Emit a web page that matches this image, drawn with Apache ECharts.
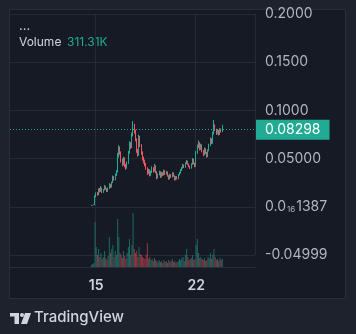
<!DOCTYPE html>
<html>
<head>
<meta charset="utf-8">
<script src="https://cdn.jsdelivr.net/npm/echarts@6/dist/echarts.min.js"></script>
<style>
html,body{margin:0;padding:0;background:#1e222d;}
#c{width:356px;height:334px;}
</style>
</head>
<body>
<div id="c"></div>
<script>
// ---- data (2-hour candles) ----
var firstIndex = 68;          // slot of first candle
var slotCount = 206;          // number of 2h slots on the time axis
var firstOpen = 0.0012;
var closes = [
 .0015,.0018,.0020,.0105,.0140,.0125,.0180,.0160,.0195,.0150,
 .0175,.0210,.0185,.0160,.0190,.0230,.0205,.0250,.0310,.0280,
 .0330,.0360,.0520,.0610,.0560,.0480,.0440,.0500,.0430,.0400,
 .0450,.0560,.0650,.0620,.0740,.0820,.0780,.0700,.0580,.0540,
 .0720,.0640,.0560,.0500,.0470,.0440,.0400,.0350,.0380,.0330,
 .0360,.0400,.0370,.0420,.0360,.0300,.0330,.0360,.0310,.0350,
 .0330,.0370,.0340,.0360,.0320,.0290,.0330,.0310,.0350,.0320,
 .0280,.0310,.0290,.0330,.0350,.0380,.0400,.0430,.0410,.0450,
 .0470,.0440,.0420,.0400,.0440,.0490,.0450,.0420,.0560,.0620,
 .0660,.0600,.0640,.0580,.0540,.0600,.0560,.0520,.0580,.0640,
 .0700,.0660,.0760,.0840,.0800,.0760,.0790,.0750,.0800,.0780,
 .08298
];
var highs = [
 .0018,.0020,.0024,.0120,.0150,.0152,.0192,.0195,.0215,.0200,
 .0185,.0225,.0218,.0192,.0200,.0245,.0238,.0262,.0325,.0318,
 .0345,.0380,.0560,.0640,.0625,.0575,.0500,.0520,.0510,.0445,
 .0470,.0580,.0680,.0670,.0770,.0890,.0860,.0800,.0710,.0600,
 .0750,.0735,.0650,.0575,.0520,.0490,.0455,.0410,.0395,.0390,
 .0375,.0420,.0410,.0445,.0430,.0370,.0345,.0375,.0368,.0362,
 .0358,.0385,.0378,.0372,.0366,.0328,.0342,.0338,.0360,.0356,
 .0326,.0320,.0318,.0340,.0362,.0392,.0412,.0445,.0438,.0462,
 .0485,.0478,.0448,.0428,.0452,.0505,.0498,.0458,.0580,.0645,
 .0690,.0670,.0655,.0648,.0590,.0615,.0608,.0570,.0595,.0655,
 .0720,.0710,.0780,.0900,.0855,.0810,.0805,.0798,.0815,.0812,
 .0850
];
var lows = [
 .0010,.0013,.0016,.0018,.0098,.0115,.0120,.0150,.0155,.0142,
 .0145,.0170,.0178,.0152,.0155,.0185,.0195,.0200,.0245,.0270,
 .0275,.0320,.0355,.0510,.0540,.0460,.0420,.0430,.0410,.0385,
 .0395,.0445,.0550,.0600,.0610,.0730,.0760,.0680,.0560,.0520,
 .0530,.0620,.0540,.0480,.0450,.0420,.0385,.0330,.0340,.0315,
 .0320,.0350,.0355,.0365,.0345,.0285,.0295,.0325,.0300,.0305,
 .0320,.0325,.0330,.0332,.0312,.0280,.0285,.0300,.0305,.0312,
 .0272,.0275,.0282,.0286,.0325,.0345,.0372,.0395,.0402,.0405,
 .0442,.0432,.0410,.0392,.0396,.0435,.0440,.0410,.0415,.0550,
 .0610,.0585,.0590,.0565,.0525,.0535,.0548,.0510,.0515,.0575,
 .0630,.0650,.0655,.0750,.0785,.0745,.0752,.0740,.0745,.0770,
 .0775
];
var volumes = [
 2,3,4,45,20,12,18,10,14,8,
 10,16,9,7,11,30,14,18,22,10,
 16,12,48,30,14,12,9,16,11,8,
 14,20,28,12,22,54,18,14,16,10,
 20,13,12,10,9,8,12,24,8,10,
 7,8,6,9,7,6,5,7,5,6,
 4,7,5,6,4,7,5,6,8,5,
 6,4,5,6,8,7,9,10,6,12,
 18,10,7,8,9,12,7,8,22,28,
 14,9,10,8,7,9,6,7,10,9,
 14,8,12,18,10,7,8,6,9,7,
 8
];
var tickDays = ['15', '22'];
var yTickValues = [-0.05, 0, 0.05, 0.1, 0.15, 0.2];
var yTickLabels = ['-0.04999', '0.0{sub|16}1387', '0.05000', '0.1000', '0.1500', '0.2000'];
var lastPrice = 0.08298;
var lastPriceLabel = '0.08298';
var volumeLabel = 'Volume';
var volumeValue = '311.31K';

// ---- build ----
var UP = '#22ab94', DOWN = '#f7525f';
var cats = [], candle = [], vol = [];
for (var i = 0; i < slotCount; i++) {
  var day = 9 + Math.floor(i / 12), hr = (i % 12) * 2;
  cats.push(day + ' ' + (hr < 10 ? '0' : '') + hr + ':00');
  var k = i - firstIndex;
  if (k >= 0 && k < closes.length) {
    var o = k === 0 ? firstOpen : closes[k - 1];
    var c = closes[k];
    candle.push([o, c, lows[k], highs[k]]);
    vol.push({value: volumes[k], itemStyle: {color: c >= o ? 'rgba(34,171,148,0.55)' : 'rgba(247,82,95,0.55)'}});
  } else {
    candle.push('-');
    vol.push('-');
  }
}
function isTick(idx, val) {
  var parts = String(val).split(' ');
  return parts[1] === '00:00' && tickDays.indexOf(parts[0]) >= 0;
}
var FONT = 'Inter';
var chart = echarts.init(document.getElementById('c'), null, {renderer: 'canvas'});
chart.setOption({
  backgroundColor: '#1e222d',
  animation: false,
  textStyle: {fontFamily: FONT},
  grid: [
    {left: 10, right: 101, top: 14, height: 241},
    {left: 10, right: 101, top: 201, height: 66}
  ],
  xAxis: [
    {type: 'category', data: cats, gridIndex: 0, boundaryGap: true,
     axisLine: {show: false}, axisTick: {show: false}, axisLabel: {show: false},
     splitLine: {show: true, interval: isTick, lineStyle: {color: '#262a35', width: 1}}},
    {type: 'category', data: cats, gridIndex: 1, boundaryGap: true,
     axisLine: {show: true, lineStyle: {color: '#2a2e39'}}, axisTick: {show: false},
     axisLabel: {show: true, interval: isTick, margin: 12, color: '#d1d4dc', fontSize: 14, fontWeight: 600, fontFamily: FONT,
       formatter: function (v) { return v.split(' ')[0]; }},
     splitLine: {show: false}}
  ],
  yAxis: [
    {type: 'value', gridIndex: 0, position: 'right', min: -0.05, max: 0.2, interval: 0.05,
     axisLine: {show: false}, axisTick: {show: false},
     splitLine: {show: true, lineStyle: {color: '#262a35', width: 1}},
     axisLabel: {show: true, margin: 10, color: '#b2b5be', fontSize: 14, fontFamily: FONT, align: 'left',
       formatter: function (v) {
         for (var j = 0; j < yTickValues.length; j++) if (Math.abs(v - yTickValues[j]) < 1e-9) return yTickLabels[j];
         return '';
       },
       rich: {sub: {fontSize: 8, color: '#b2b5be', fontFamily: FONT, padding: [6, 1, 0, 1]}}}},
    {type: 'value', gridIndex: 1, min: 0, max: 66, show: false, splitLine: {show: false}}
  ],
  series: [
    {type: 'candlestick', xAxisIndex: 0, yAxisIndex: 0, data: candle, barWidth: '80%',
     itemStyle: {color: UP, color0: DOWN, borderColor: UP, borderColor0: DOWN, borderWidth: 1},
     markLine: {symbol: 'none', silent: true, animation: false,
       lineStyle: {color: UP, type: [1, 2], width: 1, opacity: 1},
       emphasis: {disabled: true},
       label: {show: true, position: 'end', distance: 1, formatter: lastPriceLabel,
         backgroundColor: UP, color: '#ffffff', fontSize: 14, fontFamily: FONT,
         padding: [3, 9, 3, 9]},
       data: [{yAxis: lastPrice, lineStyle: {color: UP}}]}},
    {type: 'bar', xAxisIndex: 1, yAxisIndex: 1, data: vol, barWidth: '80%', z: 1}
  ],
  graphic: [
    {type: 'rect', z: -10, shape: {x: 9.5, y: 9.5, width: 336, height: 289},
     style: {fill: '#161a25', stroke: '#2a2e39', lineWidth: 1}},
    {type: 'text', left: 19, top: 20, style: {text: '...', fill: '#d1d4dc', fontSize: 13, fontFamily: FONT}},
    {type: 'text', left: 19, top: 36, style: {text: volumeLabel, fill: '#d1d4dc', fontSize: 12, fontFamily: FONT}},
    {type: 'text', left: 67, top: 36, style: {text: volumeValue, fill: UP, fontSize: 12, fontFamily: FONT}},
    {type: 'rect', shape: {x: 10, y: 313, width: 9, height: 3.5}, style: {fill: '#d1d4dc'}},
    {type: 'rect', shape: {x: 14.5, y: 313, width: 4.5, height: 11}, style: {fill: '#d1d4dc'}},
    {type: 'circle', shape: {cx: 22, cy: 315, r: 2}, style: {fill: '#d1d4dc'}},
    {type: 'polygon', shape: {points: [[25, 313], [31, 313], [27, 324], [21, 324]]}, style: {fill: '#d1d4dc'}},
    {type: 'text', left: 34, top: 310, style: {text: 'TradingView', fill: '#d1d4dc', fontSize: 15, fontWeight: 500, fontFamily: FONT}}
  ]
});
</script>
</body>
</html>
